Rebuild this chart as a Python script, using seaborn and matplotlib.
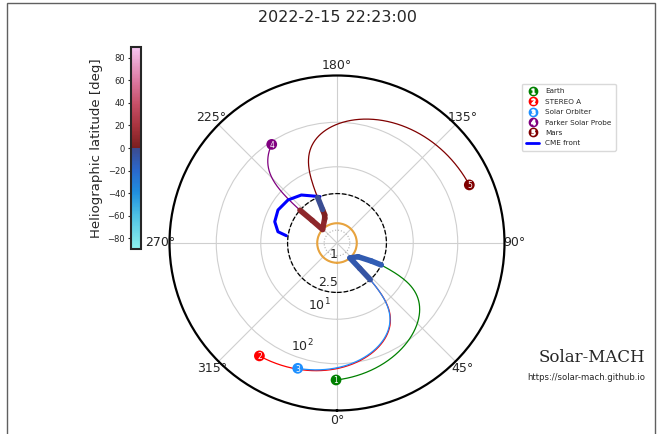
import numpy as np
import matplotlib
matplotlib.use("Agg")
import matplotlib.pyplot as plt
import seaborn as sns
from matplotlib.colors import LinearSegmentedColormap, Normalize
from matplotlib.collections import LineCollection
from matplotlib.lines import Line2D
from matplotlib.legend_handler import HandlerTuple
from matplotlib.patches import Rectangle

sns.set_style("white")
plt.rcParams["font.family"] = ["DejaVu Sans"]

# observers: longitude [deg], distance [R_sun], solar wind speed [km/s]
names = ["Earth", "STEREO A", "Solar Orbiter", "Parker Solar Probe", "Mars"]
body_colors = ["green", "red", "dodgerblue", "purple", "maroon"]
body_lon = [-0.4, -34.5, -17.4, 213.5, 113.7]
body_dist = [232, 232, 173, 88, 342]
body_vsw = [410, 342, 327, 651, 434]

# PFSS field lines below the source surface (lon [deg], r [R_sun], latitude [deg])
pfss_lon = [[40.9, 56.9, 62.3, 63.6], [40.9, 41.9, 42.2],
            [226.9, 227.7, 228.5], [226.9, 206.5, 203.7, 203.4, 203.0]]
pfss_r = [[1.0, 1.27, 1.96, 2.5], [1.0, 1.72, 2.5],
          [1.0, 1.7, 2.5], [1.0, 1.39, 1.55, 1.85, 2.5]]
pfss_lat = [[-10, -11, -12, -13], [-10, -7, -3],
            [9, 8, 6], [8, 4, 2, -2, -3]]

# CME front
cme_lon = [200.2, 216.6, 228.7, 240.8, 251.1, 259.2, 261.8]
cme_r = [2.5, 4.27, 5.65, 6.4, 5.83, 4.34, 2.74]

sun_r = 1.0
source_surface = 2.5
r_max = 1125
rticks = [1, 2.5, 10, 100]
rtick_labels = ["1", "2.5", "$10^1$", "$10^2$"]
lat_ticks = list(range(-80, 81, 20))

omega = 2 * np.pi / (25.38 * 86400)  # sidereal rotation, rad/s
rs_km = 696000.0


def parker(lon, dist, vsw):
    r = np.linspace(source_surface, dist, 300)
    phi = np.radians(lon) + omega * (dist - r) * rs_km / vsw
    return phi, r


lat_cmap = LinearSegmentedColormap.from_list("lat", [
    (0.0, "#8ff2ee"), (0.17, "#4cc0e4"), (0.28, "#1f8fe0"), (0.39, "#2a68cc"),
    (0.4999, "#3c4a8e"), (0.5, "#7a1e1e"), (0.61, "#a8343e"), (0.72, "#c85068"),
    (0.83, "#dc78a0"), (1.0, "#f6c6f2")])
norm = Normalize(-90, 90)

fig = plt.figure(figsize=(6.59, 4.34), dpi=100)
ax = fig.add_axes([169.5 / 659, 23.5 / 434, 335 / 659, 335 / 434], projection="polar")
ax.set_theta_zero_location("S")
ax.set_theta_direction(1)
ax.set_rscale("symlog", linthresh=2.5, linscale=1.0)
ax.set_rlim(0, r_max)
ax.set_rticks(rticks)
ax.set_yticklabels(rtick_labels)
ax.set_rlabel_position(-22.5)
ax.tick_params(labelsize=9)
ax.tick_params(axis="x", pad=-3.5)
ax.grid(True, color="#cfcfcf", lw=0.8)
ax.spines["polar"].set_linewidth(1.6)
ax.spines["polar"].set_color("black")

circ = np.linspace(0, 2 * np.pi, 400)
ax.plot(circ, np.full_like(circ, 0.65), color="#b0b0b0", ls=":", lw=0.8)
ax.plot(circ, np.full_like(circ, sun_r), color="#e8a33d", lw=1.5, zorder=3)
ax.plot(circ, np.full_like(circ, source_surface), color="black", ls="--", lw=0.9, zorder=3)

# Parker spirals
for lon, dist, v, c in zip(body_lon, body_dist, body_vsw, body_colors):
    phi, r = parker(lon, dist, v)
    sns.lineplot(x=phi, y=r, ax=ax, sort=False, estimator=None, color=c, lw=0.9)

# PFSS lines coloured by latitude
for lons, rs, lats in zip(pfss_lon, pfss_r, pfss_lat):
    pts = np.column_stack([np.radians(lons), rs])
    segs = np.stack([pts[:-1], pts[1:]], axis=1)
    lc = LineCollection(segs, cmap=lat_cmap, norm=norm, lw=4, capstyle="round", zorder=4)
    lc.set_array(np.array(lats[:-1], dtype=float))
    ax.add_collection(lc)

# CME front
sns.lineplot(x=np.radians(cme_lon), y=cme_r, ax=ax, sort=False, estimator=None,
             color="blue", lw=2.2)

# bodies
for i, (lon, dist, c) in enumerate(zip(body_lon, body_dist, body_colors)):
    sns.scatterplot(x=[np.radians(lon)], y=[dist], ax=ax, color=c, s=60,
                    edgecolor="none", zorder=6)
    ax.text(np.radians(lon), dist, str(i + 1), color="white", fontsize=5.5,
            ha="center", va="center_baseline", zorder=7)

ax.set_xlabel("")
ax.set_ylabel("")
ax.set_rlim(0, r_max)

# legend
handles = []
for i, c in enumerate(body_colors):
    handles.append((Line2D([], [], marker="o", ls="", ms=6, color=c),
                    Line2D([], [], marker=f"${i + 1}$", ls="", ms=3.6, color="white")))
handles.append(Line2D([], [], color="blue", lw=2))
fig.legend(handles, names + ["CME front"], handler_map={tuple: HandlerTuple(ndivide=1)},
           loc="upper left", bbox_to_anchor=(522 / 659, 1 - 84 / 434), fontsize=5.2,
           labelspacing=0.6, borderpad=0.6, handlelength=1.8, borderaxespad=0,
           frameon=True, edgecolor="#d0d0d0", fancybox=True)

# colour bar
cax = fig.add_axes([130.7 / 659, (434 - 249.3) / 434, 10.3 / 659, 202.6 / 434])
sm = plt.cm.ScalarMappable(norm=norm, cmap=lat_cmap)
cb = fig.colorbar(sm, cax=cax, ticks=lat_ticks)
cax.yaxis.set_ticks_position("left")
cax.yaxis.set_label_position("left")
cax.tick_params(labelsize=6, length=2.5, pad=1.5)
cb.set_label("Heliographic latitude [deg]", fontsize=9.5, labelpad=3)
cb.outline.set_linewidth(1.5)

fig.text(337 / 659, 1 - 18 / 434, "2022-2-15 22:23:00", ha="center", va="center", fontsize=11.5)
fig.text(645 / 659, 1 - 357 / 434, "Solar-MACH", ha="right", va="center", fontsize=12,
         family="DejaVu Serif")
fig.text(645 / 659, 1 - 378 / 434, "https://solar-mach.github.io", ha="right", va="center",
         fontsize=6.1)

fig.add_artist(Rectangle((7 / 659, -0.05), 648 / 659, 1.05 - 3 / 434, transform=fig.transFigure,
                         fill=False, ec="#606060", lw=1))

fig.savefig("out.png", dpi=100)
